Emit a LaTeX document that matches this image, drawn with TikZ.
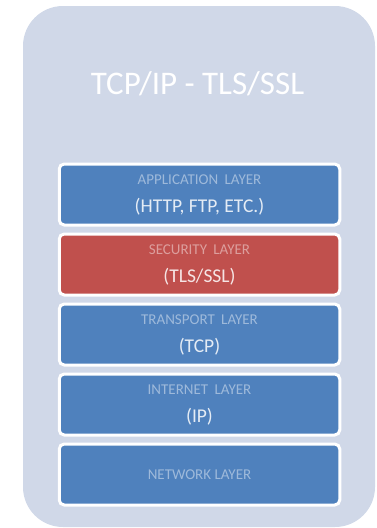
\documentclass[tikz,border=0pt]{standalone}
\usepackage{fontspec}
\setmainfont{Carlito}
\definecolor{panelbg}{HTML}{D0D8E8}
\definecolor{layerblue}{HTML}{4F81BD}
\definecolor{layerred}{HTML}{C0504D}
\begin{document}
\begin{tikzpicture}[x=1pt,y=-1pt,
  layerbox/.style={draw=white, line width=3pt, rounded corners=5pt,
    minimum width=280.5pt, minimum height=61pt, inner sep=0pt},
  smalllabel/.style={text=white, text opacity=0.45, font=\fontsize{15}{18}\selectfont},
  biglabel/.style={text=white, text opacity=0.85, font=\fontsize{19.5}{23}\selectfont}]
\useasboundingbox (0,0) rectangle (377,528);
% background panel
\fill[panelbg, rounded corners=40pt] (23,6) rectangle (375,527);
\node[text=white, font=\fontsize{33}{40}\selectfont] (title) at (197.5,84) {TCP/IP - TLS/SSL};
% protocol layers
\node[layerbox, fill=layerblue] (app) at (199.5,194.5) {};
\node[smalllabel] (appname) at ([yshift=15pt]app.center) {APPLICATION\hspace{0.2em} LAYER};
\node[biglabel] (appproto) at ([yshift=-12.5pt]app.center) {(HTTP, FTP, ETC.)};
\node[layerbox, fill=layerred] (sec) at (199.5,264.5) {};
\node[smalllabel] (secname) at ([yshift=15pt]sec.center) {SECURITY\hspace{0.2em} LAYER};
\node[biglabel] (secproto) at ([yshift=-12.5pt]sec.center) {(TLS/SSL)};
\node[layerbox, fill=layerblue] (trans) at (199.5,334.5) {};
\node[smalllabel] (transname) at ([yshift=15pt]trans.center) {TRANSPORT\hspace{0.2em} LAYER};
\node[biglabel] (transproto) at ([yshift=-12.5pt]trans.center) {(TCP)};
\node[layerbox, fill=layerblue] (inet) at (199.5,404.5) {};
\node[smalllabel] (inetname) at ([yshift=15pt]inet.center) {INTERNET\hspace{0.2em} LAYER};
\node[biglabel] (inetproto) at ([yshift=-12.5pt]inet.center) {(IP)};
\node[layerbox, fill=layerblue] (net) at (199.5,474.5) {};
\node[smalllabel] (netname) at (net.center) {NETWORK LAYER};
\end{tikzpicture}
\end{document}
